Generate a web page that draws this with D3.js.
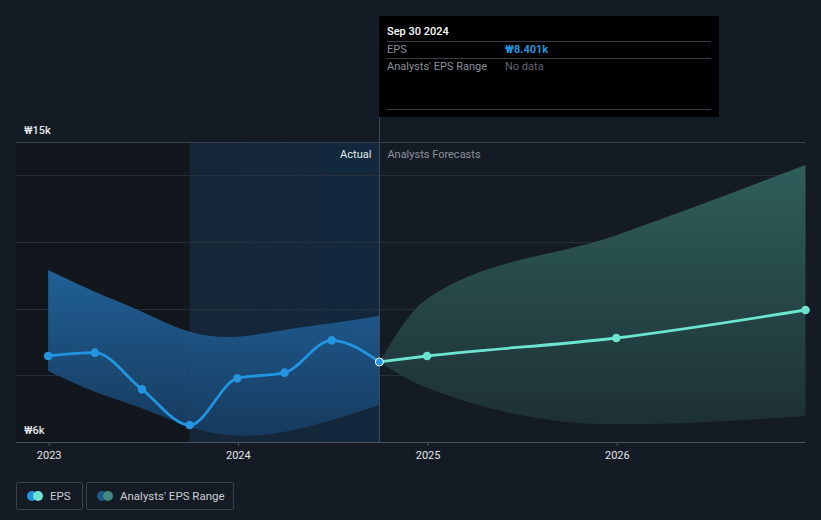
<!DOCTYPE html>
<html>
<head>
<meta charset="utf-8">
<script src="https://cdn.jsdelivr.net/npm/d3@7/dist/d3.min.js"></script>
<style>
  body { margin: 0; background: #151b25; }
  svg { display: block; font-family: Roboto, "Open Sans", sans-serif; }
</style>
</head>
<body>
<svg width="821" height="520"></svg>
<script>
// EPS, actual (quarterly, thousands of won)
var pastDates = ["2022-12-31", "2023-03-31", "2023-06-30", "2023-09-30", "2023-12-31", "2024-03-31", "2024-06-30", "2024-09-30"];
var pastEps   = [8.58, 8.68, 7.58, 6.51, 7.91, 8.08, 9.05, 8.401];
var pastHigh  = [11.16, 10.51, 9.91, 9.31, 9.16, 9.36, 9.56, 9.78];
var pastLow   = [8.13, 7.51, 7.01, 6.46, 6.19, 6.31, 6.66, 7.11];

// analysts forecasts
var fcDates = ["2024-09-30", "2024-12-31", "2025-12-31", "2026-12-31"];
var fcEps   = [8.401, 8.58, 9.12, 9.96];
var fcHigh  = [8.401, 10.3, 12.2, 14.31];
var fcLow   = [8.401, 7.62, 6.53, 6.78];

var yearTicks = ["2023-01-01", "2024-01-01", "2025-01-01", "2026-01-01"];
var gridVals = [8, 10, 12, 14, 15];
var yLabels = [15, 6];

var parse = d3.timeParse("%Y-%m-%d");
var past = pastDates.map(function(d, i) { return {date: parse(d), eps: pastEps[i], hi: pastHigh[i], lo: pastLow[i]}; });
var fc = fcDates.map(function(d, i) { return {date: parse(d), eps: fcEps[i], hi: fcHigh[i], lo: fcLow[i]}; });

var svg = d3.select("svg");
var plotLeft = 16, plotRight = 805.5, plotTop = 142, plotBottom = 442;

var x = d3.scaleTime().domain([parse("2022-10-30"), parse("2026-12-31")]).range([plotLeft, plotRight]);
var y = d3.scaleLinear().domain([6, 15]).range([plotBottom, plotTop]);

var defs = svg.append("defs");
var g1 = defs.append("linearGradient").attr("id", "hl").attr("x1", 0).attr("x2", 1).attr("y1", 0).attr("y2", 0);
g1.append("stop").attr("offset", 0).attr("stop-color", "#162638");
g1.append("stop").attr("offset", 1).attr("stop-color", "#13283d");
var g2 = defs.append("linearGradient").attr("id", "pastBand").attr("x1", 0).attr("x2", 0).attr("y1", 0).attr("y2", 1);
g2.append("stop").attr("offset", 0).attr("stop-color", "#2268a3");
g2.append("stop").attr("offset", 1).attr("stop-color", "#173d63");
var g3 = defs.append("linearGradient").attr("id", "fcBand").attr("x1", 0).attr("x2", 0).attr("y1", 0).attr("y2", 1);
g3.append("stop").attr("offset", 0).attr("stop-color", "#2f5e5b");
g3.append("stop").attr("offset", 1).attr("stop-color", "#1d3035");

var splitDate = parse("2023-09-30"), nowDate = parse("2024-09-30");

// shaded past regions
svg.append("rect").attr("x", plotLeft).attr("y", plotTop).attr("width", x(splitDate) - plotLeft).attr("height", plotBottom - plotTop).attr("fill", "#12161d");
svg.append("rect").attr("x", x(splitDate)).attr("y", plotTop).attr("width", x(nowDate) - x(splitDate)).attr("height", plotBottom - plotTop).attr("fill", "url(#hl)");

// grid
svg.selectAll(".grid").data(gridVals).enter().append("line")
    .attr("x1", plotLeft).attr("x2", plotRight)
    .attr("y1", function(d) { return Math.round(y(d)) + 0.5; })
    .attr("y2", function(d) { return Math.round(y(d)) + 0.5; })
    .attr("stroke", function(d) { return d == 15 ? "#3a414c" : "#262e39"; })
    .attr("stroke-width", 1);

// bands
var pastArea = d3.area().x(function(d) { return x(d.date); })
    .y0(function(d) { return y(d.lo); }).y1(function(d) { return y(d.hi); })
    .curve(d3.curveNatural);
var fcArea = d3.area().x(function(d) { return x(d.date); })
    .y0(function(d) { return y(d.lo); }).y1(function(d) { return y(d.hi); })
    .curve(d3.curveMonotoneX);
svg.append("path").datum(past).attr("d", pastArea).attr("fill", "url(#pastBand)").attr("opacity", 0.9);
svg.append("path").datum(fc).attr("d", fcArea).attr("fill", "url(#fcBand)");

// divider
svg.append("line").attr("x1", Math.round(x(nowDate)) + 0.5).attr("x2", Math.round(x(nowDate)) + 0.5)
    .attr("y1", 117).attr("y2", plotBottom).attr("stroke", "#3a4757");

svg.append("text").attr("x", x(nowDate) - 8).attr("y", 158).attr("text-anchor", "end")
    .attr("font-size", 11).attr("fill", "#e3e6ea").text("Actual");
svg.append("text").attr("x", x(nowDate) + 8).attr("y", 158)
    .attr("font-size", 11).attr("fill", "#8a9099").text("Analysts Forecasts");

// x axis
var xAxis = svg.append("g").attr("transform", "translate(0," + plotBottom + ")")
    .call(d3.axisBottom(x).tickValues(yearTicks.map(parse)).tickFormat(d3.timeFormat("%Y")).tickSize(4).tickPadding(5));
xAxis.select(".domain").attr("stroke", "#4a525e").attr("d", "M" + plotLeft + ",0.5H" + plotRight);
xAxis.selectAll(".tick line").attr("stroke", "#4a525e");
xAxis.selectAll("text").attr("fill", "#e3e6ea").attr("font-size", 11).attr("font-family", "Roboto");

// y labels
svg.selectAll(".ylab").data(yLabels).enter().append("text")
    .attr("x", 24).attr("y", function(d) { return y(d) - 8; })
    .attr("font-size", 11).attr("font-weight", 500).attr("fill", "#e3e6ea")
    .text(function(d) { return "₩" + d + "k"; });

// lines
var line = d3.line().x(function(d) { return x(d.date); }).y(function(d) { return y(d.eps); }).curve(d3.curveMonotoneX);
svg.append("path").datum(past).attr("d", line).attr("fill", "none").attr("stroke", "#2394df").attr("stroke-width", 2.8);
svg.append("path").datum(fc).attr("d", line).attr("fill", "none").attr("stroke", "#6ce5d0").attr("stroke-width", 2.8);

svg.selectAll(".pp").data(past.slice(0, -1)).enter().append("circle")
    .attr("cx", function(d) { return x(d.date); }).attr("cy", function(d) { return y(d.eps); })
    .attr("r", 4.3).attr("fill", "#2394df");
svg.selectAll(".fp").data(fc.slice(1)).enter().append("circle")
    .attr("cx", function(d) { return x(d.date); }).attr("cy", function(d) { return y(d.eps); })
    .attr("r", 4.3).attr("fill", "#6ce5d0");
svg.append("circle").attr("cx", x(nowDate)).attr("cy", y(pastEps[pastEps.length - 1]))
    .attr("r", 4).attr("fill", "#2394df").attr("stroke", "#fff").attr("stroke-width", 1);

// tooltip
var tip = svg.append("g").attr("transform", "translate(379,16)");
tip.append("rect").attr("width", 340).attr("height", 101).attr("fill", "#000");
tip.append("text").attr("x", 8).attr("y", 19).attr("font-size", 11).attr("font-weight", 500).attr("fill", "#fff").text("Sep 30 2024");
[25.5, 42.5, 93.5].forEach(function(v) {
  tip.append("line").attr("x1", 8).attr("x2", 332).attr("y1", v).attr("y2", v).attr("stroke", "#3a3f47");
});
tip.append("text").attr("x", 8).attr("y", 37).attr("font-size", 11).attr("fill", "#8a9099").text("EPS");
tip.append("text").attr("x", 126).attr("y", 37).attr("font-size", 11).attr("font-weight", 700).attr("fill", "#2394df").text("₩8.401k");
tip.append("text").attr("x", 8).attr("y", 54).attr("font-size", 11).attr("fill", "#8a9099").text("Analysts' EPS Range");
tip.append("text").attr("x", 126).attr("y", 54).attr("font-size", 11).attr("fill", "#5f6670").text("No data");

// legend
var legendItems = ["EPS", "Analysts' EPS Range"];
var legendColors = [["#2394df", "#6ce5d0"], ["#1d5a86", "#3e8a80"]];
var legendX = [16, 86], legendW = [66, 147];
legendItems.forEach(function(name, i) {
  var lg = svg.append("g").attr("transform", "translate(" + legendX[i] + ",482)");
  lg.append("rect").attr("x", 0.5).attr("y", 0.5).attr("width", legendW[i]).attr("height", 27).attr("rx", 2)
      .attr("fill", "none").attr("stroke", "#3c434e");
  lg.append("circle").attr("cx", 16).attr("cy", 14).attr("r", 5).attr("fill", legendColors[i][0]);
  lg.append("circle").attr("cx", 22).attr("cy", 14).attr("r", 5).attr("fill", legendColors[i][1]);
  lg.append("text").attr("x", 34).attr("y", 18).attr("font-size", 11.5).attr("fill", "#c9cdd3").text(name);
});
</script>
</body>
</html>
